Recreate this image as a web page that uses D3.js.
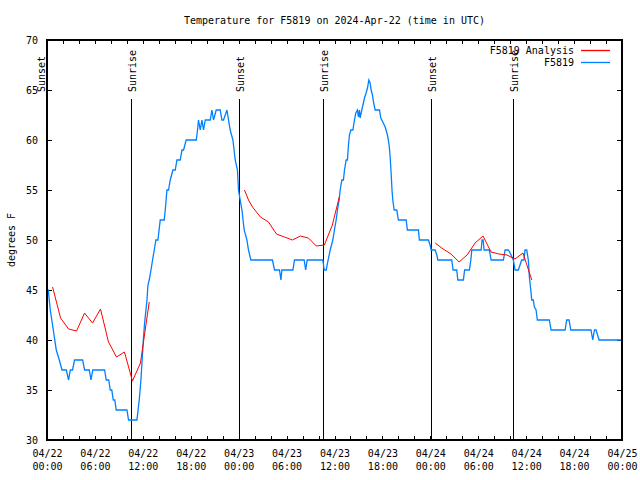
<!DOCTYPE html>
<html><head><meta charset="utf-8">
<script src="https://cdn.jsdelivr.net/npm/d3@7"></script>
<style>
body{margin:0;background:#fff}
svg{display:block}
text{font-family:"DejaVu Sans Mono",monospace;font-size:10px;fill:#000}
</style></head><body>
<svg id="c" width="640" height="480"></svg>
<script>
// hours since 2024-04-22 00:00 UTC
const startUTC = Date.UTC(2024, 3, 22, 0, 0);
const spanHours = 72;
const title = "Temperature for F5819 on 2024-Apr-22 (time in UTC)";
const yLabel = "degrees F";
const seriesNames = ["F5819 Analysis", "F5819"];
const yTicks = [30, 35, 40, 45, 50, 55, 60, 65, 70];

const obsHours = [0.00,0.16,0.41,0.79,1.16,1.54,1.88,2.42,2.70,2.92,3.20,3.45,4.46,4.71,5.29,5.51,5.73,7.21,7.42,7.73,7.92,8.11,8.30,8.49,8.67,10.01,10.21,11.26,11.55,11.76,12.09,12.22,12.39,12.52,12.64,12.80,13.02,13.22,13.43,13.64,13.89,14.18,14.68,14.81,15.02,15.22,15.43,15.77,16.06,16.27,16.68,16.90,17.10,17.43,18.69,18.85,18.97,19.19,19.40,19.60,19.81,20.23,20.44,20.65,20.85,21.19,21.69,21.90,22.10,22.32,22.53,22.73,22.94,23.28,23.57,23.85,23.98,24.19,24.41,24.69,25.03,25.23,25.53,28.23,28.49,29.11,29.29,29.41,30.79,30.99,32.20,32.39,32.58,34.54,34.71,34.96,35.20,35.46,35.79,35.99,36.21,36.37,36.58,36.71,36.92,37.12,37.25,37.46,37.62,37.75,37.87,38.05,38.30,38.50,38.67,38.87,39.00,39.12,39.21,39.42,39.62,39.75,39.96,40.13,40.30,40.46,40.59,40.75,40.88,41.09,41.63,41.80,42.05,42.34,42.63,42.84,42.97,43.09,43.20,43.30,43.47,43.80,44.00,44.97,45.13,46.51,46.63,47.76,47.97,48.10,48.60,48.81,48.94,50.68,50.85,51.31,51.44,52.14,52.29,52.89,53.07,53.19,54.36,54.48,54.61,54.73,55.39,55.61,57.15,57.36,57.77,58.00,58.39,58.61,59.02,59.23,59.44,59.72,59.86,60.07,60.27,60.40,60.58,60.70,60.90,61.03,61.24,61.40,62.90,63.12,64.87,65.08,65.37,65.58,68.12,68.34,68.55,68.75,69.13,72.00];
const obsTemps = [45,45,43,41,39,38,37,37,36,37,37,38,38,37,37,36,37,37,36,36,35,35,34,34,33,33,32,32,34,36,40.3,41.7,43,44,45.5,46,47,48,49,50,50,52,52,53,55,55,56,57,57,58,58,59,59,60,60,61,62,61,62,61,62,62,62,63,62,63,63,62,62,62.5,63,62,61,60,58,57,55,54,53,51,50,49,48,48,47,47,46,47,47,48,48,47,48,48,47,47,48,49,50,51,52,53,54,55,56,56,57,58,58,59.5,60.5,61,61,62,62.7,63,62.3,63,62.2,63,63.7,64.2,64.7,65.2,66,65.7,65,64.5,63.8,63,63,62.2,61.8,61.3,60.5,59.5,58.3,56.7,55,54,53,53,52,52,51,51,50,50,49.5,49,49,48.5,48,48,47,47,46,46,47,47,48,49,49,50,50,49,49,48,48,49,49,48.7,48,47,47,47.5,48,48,49,49,48,46.3,45,44,44,43.3,43,42,42,41,41,42,42,41,41,40,41,41,40,40];

// null marks a gap between analysis runs
const anaHours = [0.7,1.7,2.7,3.7,4.7,5.7,6.7,7.7,8.7,9.7,10.7,11.7,12.8,null,24.73,25.23,25.73,26.73,27.73,28.73,29.73,30.73,31.73,32.73,33.73,34.73,35.73,36.6,null,48.6,49.6,50.6,51.6,52.6,53.6,54.6,55.6,56.6,57.6,58.6,59.6,60.7];
const anaTemps = [45.3,42.2,41.1,40.9,42.7,41.7,43.1,39.8,38.3,38.8,35.9,37.7,43.8,null,55.0,54.0,53.3,52.3,51.8,50.6,50.3,50.0,50.4,50.2,49.4,49.5,51.5,54.3,null,49.7,49.1,48.6,47.8,48.5,49.7,50.4,48.8,48.6,48.5,48.1,48.7,46.0];

const sunHours = [0.05, 10.55, 24.1, 34.6, 48.13, 58.4];
const sunLabels = ["Sunset","Sunrise","Sunset","Sunrise","Sunset","Sunrise"];

const toDate = h => new Date(startUTC + h * 3600000);

const W = 640, H = 480;
const M = {left: 47, right: 622, top: 40, bottom: 440};
const svg = d3.select("#c");

const x = d3.scaleUtc().domain([toDate(0), toDate(spanHours)]).range([M.left, M.right]);
const y = d3.scaleLinear().domain([30, 70]).range([M.bottom, M.top]);

// title
svg.append("text").attr("x", (M.left + M.right) / 2).attr("y", 24)
  .attr("text-anchor", "middle").text(title);

// y label
svg.append("text").attr("transform", `translate(11,${(M.top + M.bottom) / 2}) rotate(-90)`)
  .attr("text-anchor", "middle").attr("dominant-baseline", "central").text(yLabel);

// axes ticks
const tickEvery2h = d3.utcHour.every(2);
const gB = svg.append("g").attr("transform", `translate(0,${M.bottom})`)
  .call(d3.axisBottom(x).ticks(tickEvery2h).tickSize(-4).tickFormat(""));
const gT = svg.append("g").attr("transform", `translate(0,${M.top})`)
  .call(d3.axisTop(x).ticks(tickEvery2h).tickSize(-4).tickFormat(""));
const gL = svg.append("g").attr("transform", `translate(${M.left},0)`)
  .call(d3.axisLeft(y).tickValues(yTicks).tickSize(-5).tickPadding(9));
const gR = svg.append("g").attr("transform", `translate(${M.right},0)`)
  .call(d3.axisRight(y).tickValues(yTicks).tickSize(-5).tickFormat(""));
[gB, gT, gL, gR].forEach(g => {
  g.select(".domain").remove();
  g.attr("font-family", null).attr("font-size", null);
  g.selectAll("line").attr("stroke", "#000").attr("shape-rendering", "crispEdges");
});

// x labels (two lines)
const fmtD = d3.utcFormat("%m/%d"), fmtT = d3.utcFormat("%H:%M");
const gX = svg.append("g").attr("transform", `translate(0,${M.bottom})`)
  .call(d3.axisBottom(x).ticks(d3.utcHour.every(6)).tickSize(0).tickFormat(fmtD));
gX.select(".domain").remove();
gX.attr("font-family", null).attr("font-size", null);
gX.selectAll(".tick text").each(function(d) {
  const t = d3.select(this).attr("dy", null).attr("y", null).text(null);
  t.append("tspan").attr("x", 0).attr("y", 17).text(fmtD(d));
  t.append("tspan").attr("x", 0).attr("y", 30).text(fmtT(d));
});

// sunrise / sunset markers
const sunTop = 99;
const sg = svg.append("g");
sunHours.forEach((h, i) => {
  const sx = Math.max(M.left, Math.round(x(toDate(h)))) + 0.5;
  sg.append("line").attr("x1", sx).attr("x2", sx).attr("y1", sunTop).attr("y2", M.bottom)
    .attr("stroke", "#000").attr("stroke-width", 1).attr("shape-rendering", "crispEdges");
  const tx = (sx - M.left < 3) ? sx - 6.5 : sx + 1;
  sg.append("text").attr("transform", `translate(${tx},${sunTop - 7}) rotate(-90)`)
    .attr("dominant-baseline", "central").text(sunLabels[i]);
});

// data
const obs = obsHours.map((h, i) => ({t: toDate(h), v: obsTemps[i]}));
const ana = anaHours.map((h, i) => ({t: h == null ? null : toDate(h), v: anaTemps[i]}));
const line = d3.line().defined(d => d.v != null && d.t != null).x(d => x(d.t)).y(d => y(d.v));

svg.append("path").datum(obs).attr("d", line).attr("fill", "none")
  .attr("stroke", "#0080ff").attr("stroke-width", 1.3);
svg.append("path").datum(ana).attr("d", line).attr("fill", "none")
  .attr("stroke", "#ff0000").attr("stroke-width", 1);

// border
svg.append("rect").attr("x", M.left).attr("y", M.top)
  .attr("width", M.right - M.left).attr("height", M.bottom - M.top)
  .attr("fill", "none").attr("stroke", "#000").attr("stroke-width", 2)
  .attr("shape-rendering", "crispEdges");

// legend
const legColors = ["#ff0000", "#0080ff"];
seriesNames.forEach((n, i) => {
  const cy = 50 + i * 12;
  svg.append("text").attr("x", 574).attr("y", cy).attr("dominant-baseline", "central")
    .attr("text-anchor", "end").text(n);
  svg.append("line").attr("x1", 581).attr("x2", 610).attr("y1", cy + 0.5).attr("y2", cy + 0.5)
    .attr("stroke", legColors[i]).attr("stroke-width", 1.3);
});
</script>
</body></html>
